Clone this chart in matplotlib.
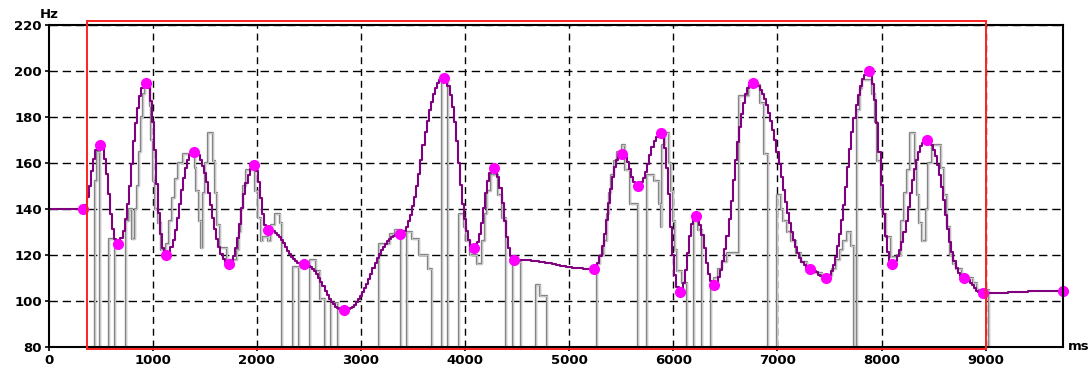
import numpy as np
import matplotlib
matplotlib.use("Agg")
import matplotlib.pyplot as plt
from matplotlib.patches import Rectangle

# stylised pitch targets (ms, Hz)
target_ms = [330, 494, 666, 935, 1127, 1396, 1732, 1972, 2107, 2452, 2836,
             3374, 3796, 4084, 4276, 4468, 5236, 5505, 5659, 5880, 6062,
             6216, 6389, 6764, 7312, 7466, 7879, 8100, 8434, 8789, 8972, 9740]
target_hz = [140, 168, 125, 195, 120, 165, 116, 159, 131, 116, 96,
             129, 197, 123, 158, 118, 114, 164, 150, 173, 104,
             137, 107, 195, 114, 110, 200, 116, 170, 110, 103.5, 104.5]

# raw F0 trace, step starts (ms) and values (Hz, 0 = unvoiced)
raw_ms = [0, 442, 465, 490, 577, 635, 747, 775, 800, 830,
          850, 870, 890, 910, 925, 970, 985, 1000, 1020, 1050,
          1083, 1131, 1160, 1185, 1210, 1240, 1290, 1404, 1420, 1440,
          1460, 1484, 1505, 1530, 1580, 1600, 1620, 1644, 1711, 1808,
          1830, 1850, 1870, 1900, 1981, 2010, 2035, 2060, 2110, 2140,
          2173, 2221, 2237, 2343, 2407, 2510, 2567, 2610, 2654, 2712,
          2776, 3173, 3276, 3330, 3385, 3442, 3490, 3560, 3640, 3680,
          3780, 3800, 3835, 3945, 3990, 4010, 4050, 4110, 4160, 4190,
          4210, 4250, 4320, 4350, 4394, 4458, 4535, 4683, 4720, 4785,
          5266, 5300, 5330, 5360, 5380, 5400, 5430, 5460, 5506, 5538,
          5580, 5660, 5747, 5810, 5860, 5880, 5895, 5923, 5955, 5975,
          5995, 6015, 6035, 6080, 6131, 6196, 6240, 6276, 6362, 6390,
          6430, 6470, 6516, 6628, 6724, 6836, 6870, 6907, 6997, 7030,
          7050, 7090, 7130, 7180, 7230, 7280, 7350, 7430, 7520, 7560,
          7600, 7630, 7670, 7705, 7734, 7766, 7790, 7814, 7910, 7935,
          7960, 7990, 8010, 8040, 8087, 8150, 8183, 8215, 8240, 8272,
          8317, 8340, 8360, 8391, 8423, 8450, 8480, 8567, 8600, 8630,
          8660, 8690, 8712, 8776, 8880, 8920, 9032]
raw_hz = [0, 152, 165, 0, 127, 0, 135, 140, 127, 140,
          150, 165, 180, 190, 195, 185, 170, 152, 140, 134,
          122, 125, 135, 145, 153, 160, 164, 158, 148, 135,
          123, 147, 160, 173, 161, 147, 133, 123, 118, 122,
          130, 140, 150, 157, 148, 136, 126, 128, 126, 133,
          138, 134, 0, 115, 0, 118, 113, 101, 0, 99,
          0, 125, 129, 131, 0, 130, 127, 120, 114, 0,
          195, 197, 0, 138, 132, 126, 120, 116, 126, 138,
          148, 155, 146, 136, 0, 117, 0, 107, 102, 0,
          116, 120, 126, 138, 147, 155, 161, 165, 168, 157,
          142, 0, 155, 152, 142, 132, 168, 173, 160, 148,
          135, 122, 113, 108, 0, 135, 131, 0, 106, 110,
          114, 117, 121, 189, 194, 186, 164, 0, 146, 140,
          135, 130, 126, 121, 117, 114, 112, 111, 114, 118,
          122, 126, 130, 124, 0, 183, 192, 196, 190, 178,
          161, 141, 138, 128, 119, 120, 135, 147, 157, 173,
          160, 146, 134, 126, 140, 160, 168, 158, 146, 132,
          120, 116, 114, 110, 108, 105, 0]

x_ticks = list(range(0, 10000, 1000))
y_ticks = list(range(80, 240, 20))
selection = (366, 9001)  # red analysis window, ms


def quad_spline(t, tk, yk):
    # quadratic spline through targets, flat at each target
    tk = np.asarray(tk, float)
    yk = np.asarray(yk, float)
    out = np.interp(t, tk, yk)
    for a, b, ya, yb in zip(tk[:-1], tk[1:], yk[:-1], yk[1:]):
        m = (t >= a) & (t <= b)
        u = (t[m] - a) / (b - a)
        out[m] = np.where(u <= 0.5, ya + 2 * (yb - ya) * u**2,
                          yb - 2 * (yb - ya) * (1 - u)**2)
    return out


fig = plt.figure(figsize=(10.88, 3.65), dpi=100)
ax = fig.add_axes([0.0447, 0.0493, 0.9326, 0.8822])

font = dict(family="DejaVu Sans", weight="bold", size=9.5)

# raw F0 as double-edged gray steps
ax.plot(raw_ms, raw_hz, drawstyle="steps-post", color="#858585", lw=1.7, zorder=2)
ax.plot(raw_ms, raw_hz, drawstyle="steps-post", color="#e0e0e0", lw=0.5, zorder=2)

tt = np.arange(0, target_ms[-1] + 1, 20.0)
ax.plot(tt, quad_spline(tt, target_ms, target_hz), drawstyle="steps-mid",
        color="#800080", lw=1.5, zorder=3)
ax.plot(target_ms, target_hz, "o", color="#ff00ff", ms=7, mec="#ff00ff",
        zorder=4, clip_on=False)

ax.set_xlim(0, 9745)
ax.set_ylim(80, 220)
ax.set_xticks(x_ticks)
ax.set_yticks(y_ticks)
ax.set_xticklabels([str(v) for v in x_ticks], **font)
ax.set_yticklabels([str(v) for v in y_ticks], **font)
ax.tick_params(length=3, width=1.2, pad=2, colors="black")

for v in x_ticks[1:]:
    ax.axvline(v, color="black", lw=1.0, dashes=(5, 3.5), zorder=1)
for v in y_ticks[1:]:
    ax.axhline(v, color="black", lw=1.0, dashes=(6, 3.5), zorder=1)

for s in ax.spines.values():
    s.set_linewidth(1.5)
    s.set_zorder(5)

ax.add_patch(Rectangle((selection[0], 79.3), selection[1] - selection[0], 142.6,
                       fill=False, ec="#ff2020", lw=1.4, zorder=6, clip_on=False))

fig.text(49 / 1088, 1 - 14 / 365, "Hz", ha="center", va="center", **font)
fig.text(1068 / 1088, 1 - 347 / 365, "ms", ha="left", va="center", **font)

fig.savefig("out.png", dpi=100)
